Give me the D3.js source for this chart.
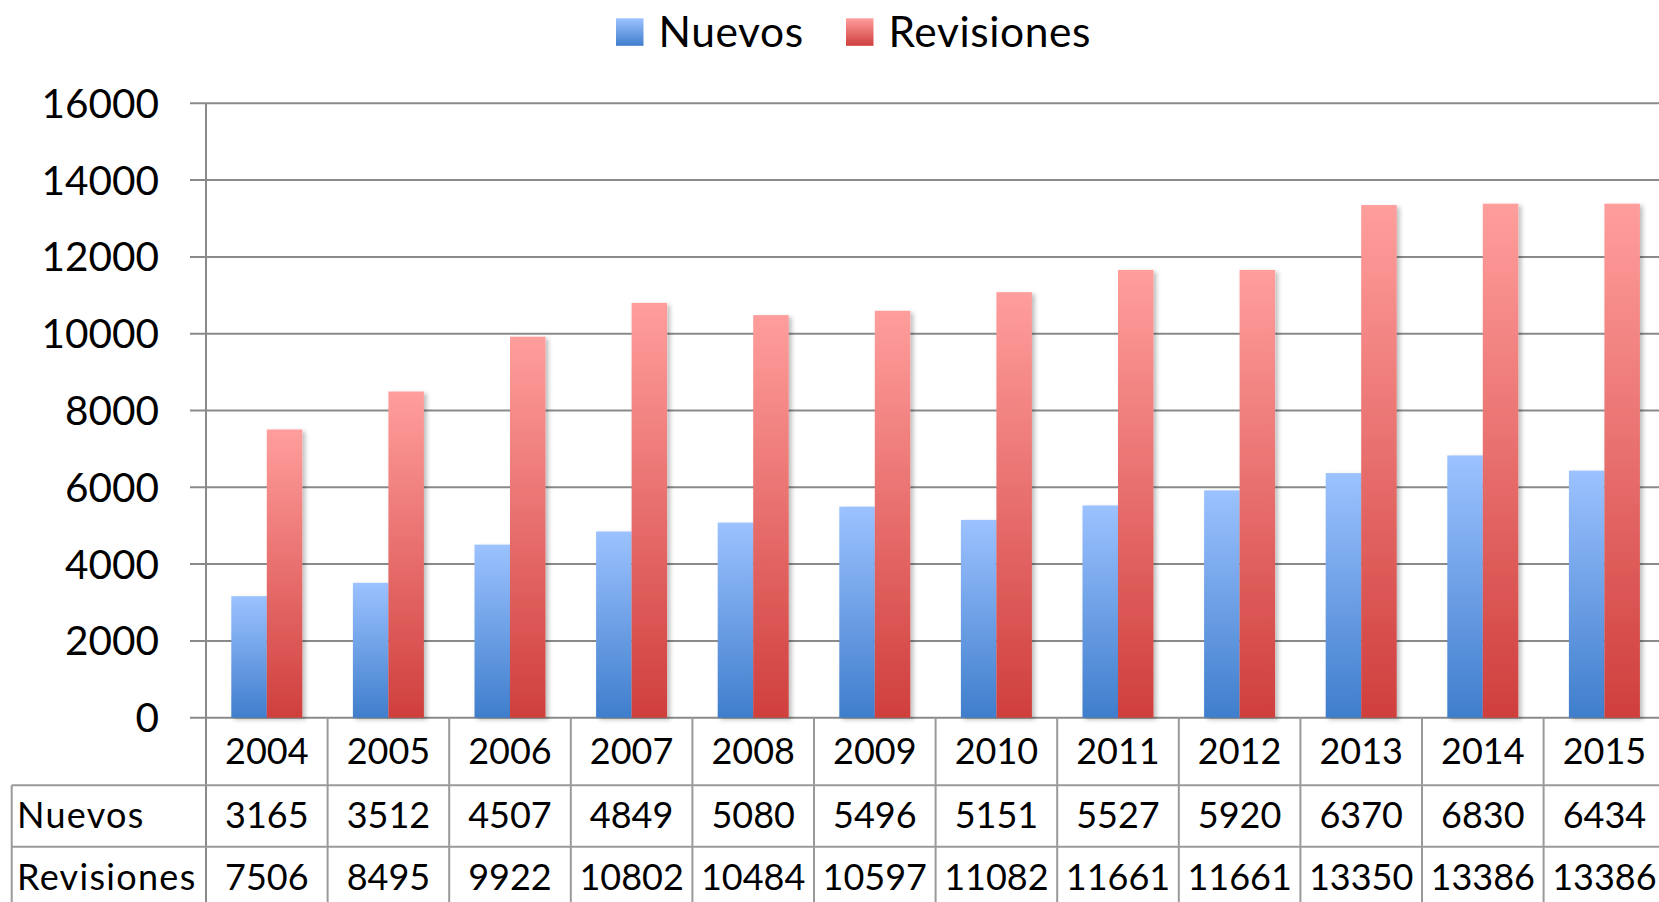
<!DOCTYPE html>
<html>
<head>
<meta charset="utf-8">
<script src="https://cdn.jsdelivr.net/npm/d3@7"></script>
<style>
  html, body { margin: 0; padding: 0; background: #fff; overflow: hidden; }
  svg text { font-family: Lato, "Open Sans", sans-serif; fill: #000; }
</style>
</head>
<body>
<svg id="chart" width="1659" height="902"></svg>
<script>
// data
const years = ["2004", "2005", "2006", "2007", "2008", "2009", "2010", "2011", "2012", "2013", "2014", "2015"];
const nuevos = [3165, 3512, 4507, 4849, 5080, 5496, 5151, 5527, 5920, 6370, 6830, 6434];
const revisiones = [7506, 8495, 9922, 10802, 10484, 10597, 11082, 11661, 11661, 13350, 13386, 13386];
const seriesNames = ["Nuevos", "Revisiones"];
const yTicks = [0, 2000, 4000, 6000, 8000, 10000, 12000, 14000, 16000];

const series = [
    { name: seriesNames[0], values: nuevos, grad: "grad-blue", top: "#9cc2ff", bottom: "#3f7ecc" },
    { name: seriesNames[1], values: revisiones, grad: "grad-red", top: "#ff9e9c", bottom: "#cf3f3d" }
];

const svg = d3.select("#chart");
const gridColor = "#8a8a8a";
const tableColor = "#9a9a9a";

const plot = { left: 206, top: 103.3, bottom: 717.7, colW: 121.6 };

const x = d3.scaleBand()
    .domain(years)
    .range([plot.left, plot.left + years.length * plot.colW]);

const x1 = d3.scaleBand()
    .domain(seriesNames)
    .range([x.bandwidth() / 2 - 35.5, x.bandwidth() / 2 + 35.5]);

const y = d3.scaleLinear()
    .domain([0, 16000])
    .range([plot.bottom, plot.top]);

// gradients + shadow
const defs = svg.append("defs");
series.forEach(s => {
    const g = defs.append("linearGradient")
        .attr("id", s.grad)
        .attr("x1", 0).attr("y1", 0).attr("x2", 0).attr("y2", 1);
    g.append("stop").attr("offset", "0%").attr("stop-color", s.top);
    g.append("stop").attr("offset", "100%").attr("stop-color", s.bottom);
});
defs.append("filter")
    .attr("id", "shadow")
    .attr("x", "-20%").attr("y", "-5%").attr("width", "150%").attr("height", "115%")
  .append("feDropShadow")
    .attr("dx", 3).attr("dy", 2)
    .attr("stdDeviation", 2)
    .attr("flood-color", "#000")
    .attr("flood-opacity", 0.25);

// gridlines
svg.append("g")
    .selectAll("line")
    .data(yTicks)
    .join("line")
    .attr("x1", 190)
    .attr("x2", 1659)
    .attr("y1", d => y(d))
    .attr("y2", d => y(d))
    .attr("stroke", gridColor)
    .attr("stroke-width", 2);

// y tick labels
svg.append("g")
    .selectAll("text")
    .data(yTicks)
    .join("text")
    .attr("x", 159)
    .attr("y", d => y(d))
    .attr("dy", "0.36em")
    .attr("text-anchor", "end")
    .style("font-size", "40.5px")
    .text(d => d);

// bars
const groups = svg.append("g")
    .selectAll("g")
    .data(years)
    .join("g")
    .attr("transform", d => `translate(${x(d)},0)`);

groups.selectAll("rect")
    .data((d, i) => series.map(s => ({ name: s.name, grad: s.grad, value: s.values[i] })))
    .join("rect")
    .attr("x", d => x1(d.name))
    .attr("width", x1.bandwidth())
    .attr("y", d => y(d.value))
    .attr("height", d => y(0) - y(d.value))
    .attr("fill", d => `url(#${d.grad})`)
    .attr("filter", "url(#shadow)");

// y axis line (continues through the header row)
svg.append("line")
    .attr("x1", plot.left).attr("x2", plot.left)
    .attr("y1", plot.top).attr("y2", 902)
    .attr("stroke", gridColor)
    .attr("stroke-width", 2);

// data table
const rows = { header: [717.7, 785.3], r1: [785.3, 846.7], r2: [846.7, 908] };
const tableLeft = 11.7;
const tbl = svg.append("g");

tbl.selectAll("line.h")
    .data([rows.r1[0], rows.r2[0]])
    .join("line")
    .attr("x1", tableLeft).attr("x2", 1659)
    .attr("y1", d => d).attr("y2", d => d)
    .attr("stroke", tableColor).attr("stroke-width", 2);

tbl.append("line")
    .attr("x1", tableLeft).attr("x2", tableLeft)
    .attr("y1", rows.r1[0]).attr("y2", 902)
    .attr("stroke", tableColor).attr("stroke-width", 2);

tbl.selectAll("line.v")
    .data(years.slice(1))
    .join("line")
    .attr("x1", d => x(d)).attr("x2", d => x(d))
    .attr("y1", plot.bottom).attr("y2", 902)
    .attr("stroke", tableColor).attr("stroke-width", 2);

tbl.selectAll("text.year")
    .data(years)
    .join("text")
    .attr("x", d => x(d) + x.bandwidth() / 2)
    .attr("y", 764.3)
    .attr("text-anchor", "middle")
    .style("font-size", "36px")
    .text(d => d);

const rowBase = [827.7, 890];
series.forEach((s, k) => {
    tbl.append("text")
        .attr("x", 17)
        .attr("y", rowBase[k])
        .style("font-size", "36px")
        .style("letter-spacing", "1.3px")
        .text(s.name);
    tbl.selectAll("text.v" + k)
        .data(s.values)
        .join("text")
        .attr("x", (d, i) => x(years[i]) + x.bandwidth() / 2)
        .attr("y", rowBase[k])
        .attr("text-anchor", "middle")
        .style("font-size", "36px")
        .text(d => d);
});

// legend
const legendX = [616, 846];
const legend = svg.append("g")
    .selectAll("g")
    .data(series)
    .join("g")
    .attr("transform", (d, i) => `translate(${legendX[i]},18.3)`);

legend.append("rect")
    .attr("width", 27.5)
    .attr("height", 27.5)
    .attr("fill", d => `url(#${d.grad})`);

legend.append("text")
    .attr("x", 42.5)
    .attr("y", 29)
    .style("font-size", "42.5px")
    .style("letter-spacing", "0.6px")
    .text(d => d.name);
</script>
</body>
</html>
